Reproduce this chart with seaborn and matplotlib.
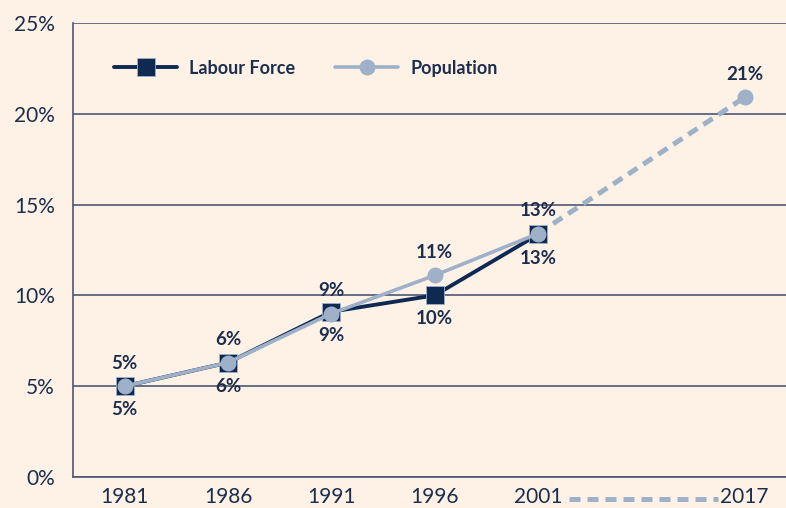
import pandas as pd
import matplotlib.pyplot as plt
import matplotlib.ticker as mticker
from matplotlib.lines import Line2D
import seaborn as sns

years = ['1981', '1986', '1991', '1996', '2001', '2017']
labour_force = [5.0, 6.3, 9.1, 10.0, 13.35]
population = [5.0, 6.3, 9.0, 11.1, 13.4, 20.9]
labour_labels = ['5%', '6%', '9%', '10%', '13%']
population_labels = ['5%', '6%', '9%', '11%', '13%', '21%']
# 2017 sits one empty slot further right than the other years
x_pos = [0, 1, 2, 3, 4, 6]

NAVY = '#0f2a52'
LIGHT = '#9fb1c9'
TEXT = '#1c2d4d'
GRID = '#4d5873'
BG = '#fef2e7'

sns.set_style('white')
plt.rcParams['font.family'] = ['Lato', 'DejaVu Sans']

lf = pd.DataFrame({'x': x_pos[:5], 'value': labour_force})
pop_solid = pd.DataFrame({'x': x_pos[:5], 'value': population[:5]})
pop_proj = pd.DataFrame({'x': x_pos[4:], 'value': population[4:]})

fig = plt.figure(figsize=(7.86, 5.08), dpi=100, facecolor=BG)
ax = fig.add_axes([0.093, 0.061, 0.907, 0.894])
ax.set_facecolor(BG)

sns.lineplot(data=pop_proj, x='x', y='value', ax=ax, color=LIGHT, lw=3.6,
             linestyle=(0, (2.2, 1.4)), zorder=2)
sns.lineplot(data=lf, x='x', y='value', ax=ax, color=NAVY, lw=2.8,
             marker='s', markersize=13, markeredgecolor=LIGHT, markeredgewidth=0.6, zorder=3)
sns.lineplot(data=pop_solid, x='x', y='value', ax=ax, color=LIGHT, lw=2.6,
             marker='o', markersize=11.5, markeredgewidth=0, zorder=4)
ax.plot(pop_proj['x'].iloc[-1:], pop_proj['value'].iloc[-1:], 'o', color=LIGHT,
        markersize=11.5, markeredgewidth=0, zorder=4)

for x, v, t in zip(x_pos, labour_force, labour_labels):
    ax.annotate(t, (x, v), xytext=(0, -17), textcoords='offset points', ha='center', va='center',
                fontsize=13.5, fontweight='bold', color=TEXT)
for x, v, t in zip(x_pos, population, population_labels):
    ax.annotate(t, (x, v), xytext=(0, 16.5), textcoords='offset points', ha='center', va='center',
                fontsize=13.5, fontweight='bold', color=TEXT)

ax.set_xlim(-0.48, 6.4)
ax.set_ylim(0, 25)
ax.yaxis.set_major_locator(mticker.MultipleLocator(5))
ax.yaxis.set_major_formatter(mticker.FuncFormatter(lambda v, p: f'{v:.0f}%'))
ax.grid(axis='y', color=GRID, lw=1.2)
ax.set_axisbelow(True)

ax.set_xticks(x_pos)
ax.set_xticklabels(years)
ax.set_xticks([-0.5, 0.5, 1.5, 2.5, 3.5, 4.5, 5.5], minor=True)
ax.tick_params(axis='x', which='major', length=0, pad=7, labelsize=15, labelcolor=TEXT)
ax.tick_params(axis='x', which='minor', length=8, width=1.2, color=GRID, direction='out')
ax.tick_params(axis='y', length=8, width=1.2, color=GRID, direction='out', pad=5,
               labelsize=15, labelcolor=TEXT)
ax.set_xlabel(None)
ax.set_ylabel(None)

for s in ['top', 'right']:
    ax.spines[s].set_visible(False)
for s in ['left', 'bottom']:
    ax.spines[s].set_color(GRID)
    ax.spines[s].set_linewidth(1.2)

# dashed connector between the 2001 and 2017 axis labels
ax.plot([4.3, 5.74], [-0.048, -0.048], transform=ax.get_xaxis_transform(), clip_on=False,
        color=LIGHT, lw=3.6, linestyle=(0, (2.2, 1.4)))

handles = [
    Line2D([], [], color=NAVY, lw=2.8, marker='s', markersize=13, markeredgecolor=LIGHT,
           markeredgewidth=0.6, label='Labour Force'),
    Line2D([], [], color=LIGHT, lw=2.6, marker='o', markersize=11.5, markeredgewidth=0,
           label='Population'),
]
leg = ax.legend(handles=handles, loc='upper left', bbox_to_anchor=(0.035, 0.955), ncol=2,
                frameon=False, handlelength=3.5, columnspacing=2.2, handletextpad=0.65,
                prop={'weight': 'bold', 'size': 13})
for t in leg.get_texts():
    t.set_color(TEXT)

fig.savefig('out.png', dpi=100, facecolor=BG)
